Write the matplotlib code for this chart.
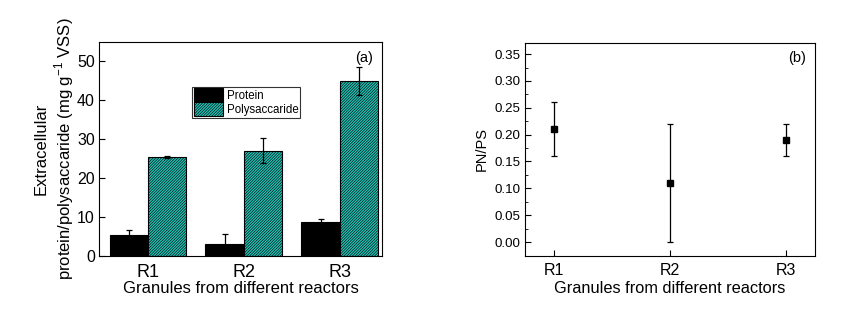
import numpy as np
import matplotlib
matplotlib.use("Agg")
from matplotlib import pyplot as plt

plt.rcParams['font.family'] = ['Liberation Sans', 'DejaVu Sans']
plt.rcParams['hatch.linewidth'] = 0.45
plt.rcParams['hatch.color'] = '#062a27'
plt.rcParams['mathtext.fontset'] = 'custom'
plt.rcParams['mathtext.rm'] = 'Liberation Sans'

reactors = ['R1', 'R2', 'R3']
protein = [5.4, 3.1, 8.8]
protein_err = [1.3, 2.5, 0.7]
polysac = [25.5, 27.0, 44.9]
polysac_err = [0.3, 3.2, 3.6]
pnps = [0.21, 0.11, 0.19]
pnps_err = [0.05, 0.11, 0.03]

TEAL = '#22c4b8'

fig = plt.figure(figsize=(8.49, 3.28), dpi=100)

""" Panel (a) """
ax1 = fig.add_axes([0.1166, 0.2195, 0.3333, 0.6525])
x = np.arange(1, len(reactors) + 1)
w = 0.4
ax1.bar(x - w / 2, protein, w, color='black', edgecolor='black', linewidth=0.8,
        yerr=protein_err, error_kw=dict(ecolor='black', elinewidth=0.9, capsize=2.5, capthick=0.9),
        label='Protein')
ax1.bar(x + w / 2, polysac, w, color=TEAL, edgecolor='black', linewidth=0.8, hatch='/' * 12,
        yerr=polysac_err, error_kw=dict(ecolor='black', elinewidth=0.9, capsize=2.5, capthick=0.9),
        label='Polysaccaride')
ax1.set_xlim(0.49, 3.44)
ax1.set_ylim(0, 55)
ax1.set_yticks([0, 10, 20, 30, 40, 50])
ax1.set_xticks(x)
ax1.set_xticklabels(reactors, fontsize=13)
ax1.tick_params(axis='y', labelsize=11.5, direction='in', length=4, pad=3)
ax1.tick_params(axis='x', direction='in', length=0, pad=6)
ax1.set_xlabel('Granules from different reactors', fontsize=12, labelpad=0)
ax1.set_ylabel('Extracellular\nprotein/polysaccaride (mg g$^{-1}$ VSS)', fontsize=12)
ax1.yaxis.set_label_coords(-0.082, 0.5)
ax1.text(0.97, 0.96, '(a)', transform=ax1.transAxes, ha='right', va='top', fontsize=10.5)
leg = ax1.legend(loc='upper left', bbox_to_anchor=(0.33, 0.79), fontsize=8.3, frameon=True,
                 fancybox=False, edgecolor='black', borderpad=0.12, handlelength=2.5,
                 handleheight=1.5, handletextpad=0.4, labelspacing=0.0, borderaxespad=0)
leg.get_frame().set_linewidth(0.8)

""" Panel (b) """
ax2 = fig.add_axes([0.6184, 0.2195, 0.3416, 0.65])
ax2.errorbar(x, pnps, yerr=pnps_err, fmt='s', color='black', markersize=5,
             elinewidth=0.9, capsize=2, capthick=0.9)
ax2.set_xlim(0.75, 3.25)
ax2.set_ylim(-0.026, 0.371)
ax2.set_yticks(np.arange(0, 0.36, 0.05))
ax2.set_yticks(np.arange(0.025, 0.36, 0.05), minor=True)
ax2.yaxis.set_major_formatter(matplotlib.ticker.FormatStrFormatter('%.2f'))
ax2.set_xticks(x)
ax2.set_xticklabels(reactors, fontsize=11.5)
ax2.tick_params(axis='y', which='major', labelsize=9.6, direction='in', length=4)
ax2.tick_params(axis='y', which='minor', direction='in', length=2)
ax2.tick_params(axis='x', direction='in', length=4, pad=5)
ax2.set_xlabel('Granules from different reactors', fontsize=11.8, labelpad=2)
ax2.set_ylabel('PN/PS', fontsize=10.5)
ax2.text(0.97, 0.96, '(b)', transform=ax2.transAxes, ha='right', va='top', fontsize=10.5)

fig.savefig('out.png', dpi=100)
